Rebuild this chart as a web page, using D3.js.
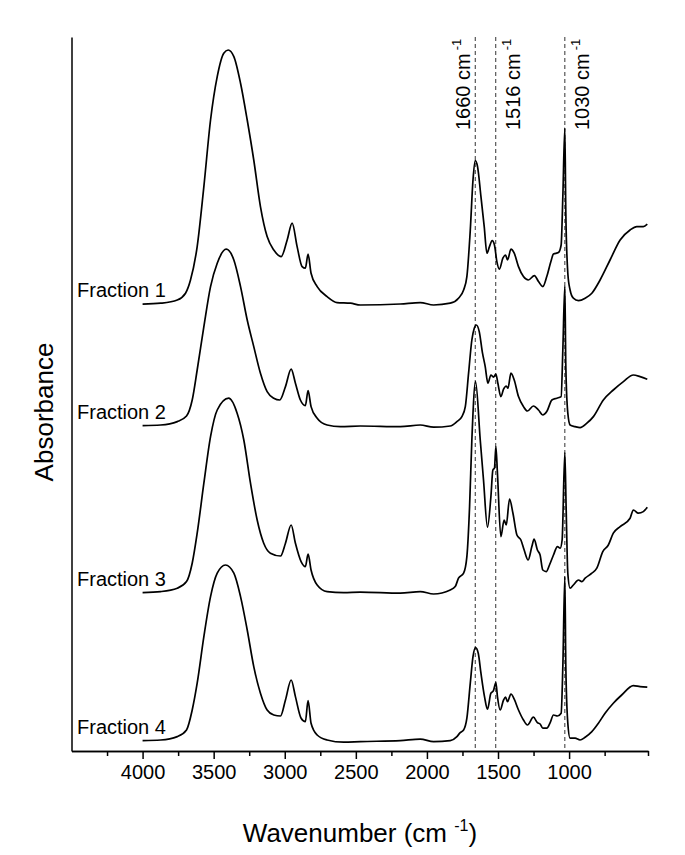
<!DOCTYPE html>
<html>
<head>
<meta charset="utf-8">
<script src="https://cdn.jsdelivr.net/npm/d3@7"></script>
<style>
  body { margin: 0; background: #fff; }
  svg text { font-family: "Liberation Sans", Arial, sans-serif; fill: #000; }
</style>
</head>
<body>
<svg width="685" height="855"></svg>
<script>
// FTIR spectra, stacked (absorbance in arbitrary offset units)
var fractionNames = ["Fraction 1", "Fraction 2", "Fraction 3", "Fraction 4"];

var wave_f1 = [4000,3873,3756,3698,3663,3616,3569,3522,3475,3429,3398,3358,3311,3264,3218,3171,3124,3077,3025,2983,2948,2913,2878,2855,2836,2815,2772,2702,2632,2538,2468,2187,2047,1953,1836,1778,1742,1719,1695,1676,1660,1644,1620,1597,1578,1560,1541,1525,1508,1490,1466,1447,1433,1409,1386,1356,1321,1286,1244,1215,1185,1157,1128,1110,1075,1056,1044,1030,1023,1009,993,970,934,887,840,782,712,641,571,524,478,450];
var abs_f1 = [2.234,2.239,2.255,2.289,2.355,2.522,2.822,3.155,3.372,3.489,3.505,3.472,3.339,3.155,2.955,2.722,2.572,2.505,2.472,2.555,2.639,2.522,2.422,2.414,2.484,2.389,2.322,2.272,2.242,2.239,2.230,2.235,2.242,2.230,2.239,2.264,2.305,2.372,2.605,2.855,2.952,2.922,2.772,2.622,2.489,2.522,2.552,2.530,2.447,2.409,2.464,2.480,2.455,2.509,2.489,2.422,2.372,2.355,2.377,2.347,2.322,2.372,2.447,2.485,2.492,2.530,2.772,3.115,2.689,2.389,2.305,2.264,2.252,2.264,2.289,2.355,2.455,2.555,2.605,2.622,2.622,2.634];

var wave_f2 = [4000,3873,3756,3691,3651,3616,3569,3522,3475,3412,3358,3311,3264,3218,3171,3124,3077,3035,2995,2955,2925,2890,2855,2836,2815,2772,2702,2609,2468,2187,2047,1953,1836,1789,1754,1730,1707,1684,1667,1653,1632,1609,1590,1571,1550,1532,1515,1501,1480,1461,1442,1430,1409,1386,1356,1321,1293,1251,1215,1185,1157,1121,1086,1056,1044,1030,1023,1009,993,958,923,875,829,759,689,618,548,501,450];
var abs_f2 = [1.627,1.630,1.647,1.675,1.755,1.905,2.122,2.322,2.439,2.509,2.455,2.322,2.155,2.022,1.889,1.797,1.764,1.755,1.822,1.909,1.839,1.755,1.727,1.802,1.722,1.664,1.630,1.622,1.625,1.622,1.630,1.619,1.625,1.647,1.672,1.722,1.889,2.055,2.114,2.130,2.097,1.989,1.922,1.839,1.880,1.869,1.885,1.839,1.772,1.809,1.825,1.814,1.889,1.855,1.772,1.722,1.700,1.725,1.705,1.680,1.697,1.755,1.764,1.772,2.005,2.325,1.922,1.689,1.630,1.622,1.617,1.639,1.672,1.755,1.805,1.847,1.880,1.872,1.859];

var wave_f3 = [4000,3873,3756,3691,3651,3616,3569,3522,3475,3394,3335,3288,3241,3194,3148,3101,3030,2995,2955,2925,2885,2855,2836,2815,2772,2702,2586,2468,2187,2047,1953,1836,1801,1778,1742,1719,1700,1684,1658,1625,1602,1574,1550,1536,1525,1515,1504,1480,1457,1442,1419,1395,1367,1339,1316,1288,1262,1246,1223,1204,1185,1161,1138,1110,1082,1063,1049,1030,1021,1009,993,970,934,911,887,840,805,763,724,689,641,571,548,513,478,450];
var abs_f3 = [0.792,0.797,0.814,0.847,0.939,1.089,1.339,1.572,1.705,1.764,1.689,1.555,1.339,1.155,1.039,0.989,0.975,1.039,1.130,1.039,0.947,0.922,0.984,0.905,0.830,0.797,0.792,0.794,0.789,0.797,0.785,0.805,0.822,0.864,0.889,0.972,1.222,1.555,1.847,1.555,1.355,1.119,1.272,1.405,1.414,1.522,1.389,1.072,1.155,1.130,1.259,1.189,1.080,1.055,1.005,0.955,1.022,1.059,1.005,0.980,0.905,0.897,0.930,0.980,1.022,1.014,1.055,1.492,1.222,0.889,0.814,0.830,0.855,0.847,0.864,0.889,0.914,0.997,1.030,1.089,1.122,1.164,1.205,1.189,1.197,1.219];

var wave_f4 = [4000,3873,3756,3691,3651,3616,3569,3522,3475,3417,3358,3311,3264,3218,3171,3124,3077,3030,2995,2955,2925,2885,2855,2836,2815,2772,2702,2586,2468,2187,2047,1953,1836,1789,1766,1742,1719,1695,1676,1658,1639,1620,1595,1574,1550,1532,1515,1504,1485,1461,1447,1433,1409,1386,1356,1321,1293,1251,1223,1204,1185,1157,1133,1110,1082,1056,1044,1030,1023,1009,993,958,923,887,840,794,747,689,630,548,501,450];
var abs_f4 = [0.052,0.055,0.072,0.105,0.205,0.339,0.572,0.772,0.889,0.930,0.889,0.772,0.605,0.422,0.289,0.205,0.180,0.175,0.255,0.355,0.272,0.164,0.147,0.252,0.139,0.080,0.055,0.044,0.047,0.052,0.059,0.047,0.052,0.072,0.092,0.105,0.164,0.339,0.472,0.517,0.489,0.389,0.272,0.209,0.289,0.302,0.342,0.272,0.205,0.255,0.269,0.247,0.285,0.259,0.205,0.155,0.130,0.169,0.142,0.135,0.114,0.114,0.142,0.180,0.175,0.189,0.422,0.872,0.422,0.139,0.064,0.064,0.055,0.069,0.097,0.139,0.189,0.239,0.280,0.327,0.322,0.319];

var markerWaves = [1660, 1516, 1030];
var majorTicks = [4000, 3500, 3000, 2500, 2000, 1500, 1000];
var minorTicks = [4250, 3750, 3250, 2750, 2250, 1750, 1250, 750];

var series = [
  {name: fractionNames[0], w: wave_f1, a: abs_f1},
  {name: fractionNames[1], w: wave_f2, a: abs_f2},
  {name: fractionNames[2], w: wave_f3, a: abs_f3},
  {name: fractionNames[3], w: wave_f4, a: abs_f4}
];

var svg = d3.select("svg");

var plotLeft = 71.5, plotRight = 648, plotTop = 37, plotBottom = 751;

var x = d3.scaleLinear().domain([4500, 445]).range([plotLeft, plotRight]);
var y = d3.scaleLinear().domain([0, 3.57]).range([plotBottom, plotTop]);

// dashed marker lines
svg.append("g").selectAll("line")
    .data(markerWaves)
  .enter().append("line")
    .attr("x1", function(d) { return x(d); })
    .attr("x2", function(d) { return x(d); })
    .attr("y1", plotTop)
    .attr("y2", plotBottom)
    .attr("stroke", "#333")
    .attr("stroke-width", 1)
    .attr("stroke-dasharray", "4,3");

// marker labels, rotated; 1660 sits left of its line, others right
var mk = svg.append("g").selectAll("text")
    .data(markerWaves)
  .enter().append("text")
    .attr("transform", function(d, i) {
      var bx = i == 0 ? x(d) - 5 : x(d) + 24;
      return "translate(" + bx + ",130) rotate(-90)";
    })
    .style("font-size", "20px");
mk.append("tspan").text(function(d) { return d + " cm"; });
mk.append("tspan").attr("dy", -9).attr("dx", 3).style("font-size", "13px").text("-1");

// spectra
var line = d3.line()
    .curve(d3.curveMonotoneX)
    .x(function(d) { return x(d[0]); })
    .y(function(d) { return y(d[1]); });

svg.append("g").selectAll("path")
    .data(series)
  .enter().append("path")
    .attr("d", function(s) { return line(d3.zip(s.w, s.a)); })
    .attr("fill", "none")
    .attr("stroke", "#000")
    .attr("stroke-width", 1.7)
    .attr("stroke-linejoin", "round");

svg.append("g").selectAll("text")
    .data(series)
  .enter().append("text")
    .attr("x", 77)
    .attr("y", function(s) { return y(s.a[0]) - 7; })
    .style("font-size", "20px")
    .text(function(s) { return s.name; });

// axes
var xMinor = d3.axisBottom(x).tickValues(minorTicks.concat([445])).tickSize(5).tickSizeOuter(0).tickFormat("");
var xMajor = d3.axisBottom(x).tickValues(majorTicks).tickSize(8).tickSizeOuter(0).tickPadding(6).tickFormat(d3.format("d"));

svg.append("g").attr("transform", "translate(0," + plotBottom + ")").call(xMinor);
var gx = svg.append("g").attr("transform", "translate(0," + plotBottom + ")").call(xMajor);
gx.selectAll("text").style("font-size", "20px").style("font-family", "Liberation Sans, Arial, sans-serif");

svg.append("g").attr("transform", "translate(" + plotLeft + ",0)")
    .call(d3.axisLeft(y).tickValues([]).tickSizeOuter(0));

svg.selectAll(".domain, .tick line").attr("stroke", "#000").attr("stroke-width", 1.5);

// axis titles
var xt = svg.append("text")
    .attr("x", 360)
    .attr("y", 842)
    .attr("text-anchor", "middle")
    .style("font-size", "26px");
xt.append("tspan").text("Wavenumber (cm ");
xt.append("tspan").attr("dy", -11).style("font-size", "16px").text("-1");
xt.append("tspan").attr("dy", 11).text(")");

svg.append("text")
    .attr("transform", "translate(53,412) rotate(-90)")
    .attr("text-anchor", "middle")
    .style("font-size", "26px")
    .text("Absorbance");
</script>
</body>
</html>
